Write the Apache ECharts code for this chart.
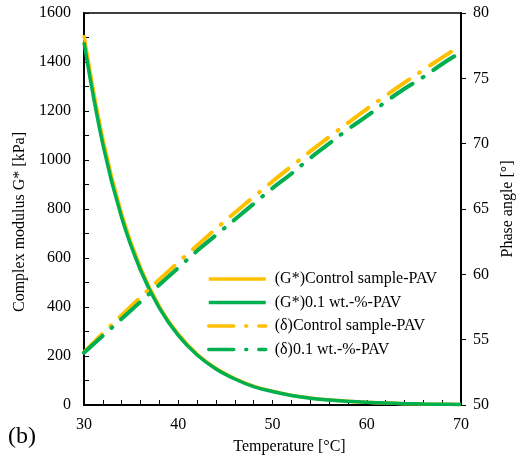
<!DOCTYPE html>
<html>
<head>
<meta charset="utf-8">
<script src="https://cdn.jsdelivr.net/npm/echarts@6/dist/echarts.min.js"></script>
<style>
  html, body { margin: 0; padding: 0; background: #fff; }
  #chart { width: 517px; height: 460px; }
</style>
</head>
<body>
<div id="chart"></div>
<script>
// temperature points [°C]
const temps = [30, 32, 34, 36, 38, 40, 42, 44, 46, 48, 50, 52, 54, 56, 58, 60, 62, 64, 66, 68, 70];

// complex modulus G* [kPa]
const gControl = [1510, 1086, 780, 561, 403, 290, 208, 150, 108, 77, 56, 40, 29, 21, 15, 11, 8, 5.5, 4, 3, 2];
const gAdd01 = [1480, 1064, 764, 550, 395, 284, 204, 147, 106, 75, 55, 39, 28, 20, 15, 11, 8, 5.5, 4, 3, 2];

// phase angle [°]
const dControl = [54.05, 55.48, 56.88, 58.25, 59.6, 60.92, 62.21, 63.48, 64.72, 65.93, 67.11, 68.27, 69.41, 70.51, 71.59, 72.65, 73.67, 74.67, 75.64, 76.59, 77.51];
const dAdd01 = [54.0, 55.3, 56.6, 57.9, 59.2, 60.5, 61.8, 63.0, 64.2, 65.4, 66.6, 67.7, 68.9, 70.0, 71.1, 72.1, 73.2, 74.2, 75.1, 76.1, 77.0];

const names = ['(G*)Control sample-PAV', '(G*)0.1 wt.-%-PAV', '(δ)Control sample-PAV', '(δ)0.1 wt.-%-PAV'];

const YELLOW = '#FFC000';
const GREEN = '#00B050';
const FONT = 'Liberation Serif';
const dashDot = [25, 12, 1, 12];

const pairs = (ys) => temps.map((t, i) => [t, ys[i]]);
const plain = (v) => String(v);

const chart = echarts.init(document.getElementById('chart'));

chart.setOption({
  animation: false,
  textStyle: { fontFamily: FONT, color: '#000' },
  grid: {
    left: 84, right: 56, top: 13, bottom: 55,
    outerBoundsMode: 'none',
    containLabel: false,
    show: true, borderColor: '#000', borderWidth: 1.5
  },
  legend: {
    orient: 'vertical',
    left: 207,
    top: 271,
    padding: 0,
    itemWidth: 57,
    itemHeight: 4,
    itemGap: 7.5,
    selectedMode: false,
    itemStyle: { opacity: 0 },
    lineStyle: { width: 3.5 },
    textStyle: { fontFamily: FONT, fontSize: 16, color: '#000', padding: [0, 0, 0, 4] },
    data: names
  },
  xAxis: {
    type: 'value',
    min: 30, max: 70, interval: 10,
    name: 'Temperature [°C]',
    nameLocation: 'middle',
    nameGap: 34,
    nameTextStyle: { fontFamily: FONT, fontSize: 16, color: '#000', padding: [0, 0, 0, 34] },
    axisLine: { lineStyle: { color: '#000', width: 2 } },
    axisTick: { inside: true, length: 5, lineStyle: { color: '#000' } },
    minorTick: { show: true, splitNumber: 5, length: 5, lineStyle: { color: '#000' } },
    axisLabel: { fontFamily: FONT, fontSize: 16, color: '#000', margin: 12, formatter: plain },
    splitLine: { show: false }
  },
  yAxis: [
    {
      type: 'value',
      min: 0, max: 1600, interval: 200,
      name: 'Complex modulus G* [kPa]',
      nameLocation: 'middle',
      nameGap: 46,
      nameRotate: 90,
      nameTextStyle: { fontFamily: FONT, fontSize: 16, color: '#000', padding: [0, 26, 0, 0] },
      axisLine: { show: true, lineStyle: { color: '#000', width: 2 } },
      axisTick: { inside: true, length: 5, lineStyle: { color: '#000' } },
      minorTick: { show: true, splitNumber: 2, length: 5, lineStyle: { color: '#000' } },
      axisLabel: { fontFamily: FONT, fontSize: 16, color: '#000', margin: 13, formatter: plain },
      splitLine: { show: false }
    },
    {
      type: 'value',
      min: 50, max: 80, interval: 5,
      position: 'right',
      name: 'Phase angle [°]',
      nameLocation: 'middle',
      nameGap: 39,
      nameRotate: 90,
      nameTextStyle: { fontFamily: FONT, fontSize: 16, color: '#000' },
      axisLine: { show: true, lineStyle: { color: '#000', width: 2 } },
      axisTick: { inside: false, length: 5, lineStyle: { color: '#000' } },
      axisLabel: { fontFamily: FONT, fontSize: 16, color: '#000', margin: 12, formatter: plain },
      splitLine: { show: false }
    }
  ],
  series: [
    {
      name: names[0], type: 'line', yAxisIndex: 0,
      data: pairs(gControl), smooth: 0.4, symbol: 'none',
      lineStyle: { color: YELLOW, width: 3.5 }, itemStyle: { color: YELLOW }
    },
    {
      name: names[1], type: 'line', yAxisIndex: 0,
      data: pairs(gAdd01), smooth: 0.4, symbol: 'none',
      lineStyle: { color: GREEN, width: 3.5 }, itemStyle: { color: GREEN }
    },
    {
      name: names[2], type: 'line', yAxisIndex: 1,
      data: pairs(dControl), smooth: 0.4, symbol: 'none',
      lineStyle: { color: YELLOW, width: 4, type: dashDot, cap: 'round' }, itemStyle: { color: YELLOW }
    },
    {
      name: names[3], type: 'line', yAxisIndex: 1,
      data: pairs(dAdd01), smooth: 0.4, symbol: 'none',
      lineStyle: { color: GREEN, width: 4, type: dashDot, cap: 'round' }, itemStyle: { color: GREEN }
    }
  ],
  graphic: [
    {
      type: 'text', left: 8, top: 425,
      style: { text: '(b)', fontFamily: FONT, fontSize: 24, fill: '#000' }
    }
  ]
});
</script>
</body>
</html>
